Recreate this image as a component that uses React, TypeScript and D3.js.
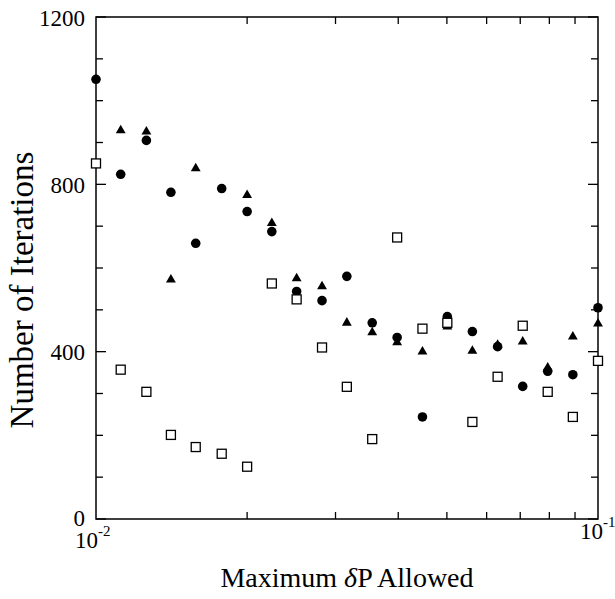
import React from "react";
import * as d3 from "d3";

// x values (Maximum δP allowed), logarithmically spaced
const xValues = [
  0.01, 0.0112, 0.0126, 0.0141, 0.0158, 0.0178, 0.02, 0.0224, 0.0251, 0.0282,
  0.0316, 0.0355, 0.0398, 0.0447, 0.0501, 0.0562, 0.0631, 0.0708, 0.0794,
  0.0891, 0.1,
];

// Filled circles
const circleSeries = [
  1051, 824, 905, 781, 659, 790, 735, 687, 544, 522, 580, 469, 434, 244, 484,
  448, 412, 317, 353, 345, 505,
];

// Filled triangles (null = no point)
const triangleSeries: (number | null)[] = [
  null, 929, 926, 572, 838, null, 774, 707, 575, 556, 469, 446, 422, 400, 460,
  402, 416, 424, 362, 436, 467,
];

// Open squares
const squareSeries = [
  850, 357, 304, 201, 172, 156, 125, 563, 525, 410, 316, 191, 673, 455, 469,
  232, 340, 462, 304, 244, 378,
];

const yTickLabels = [0, 400, 800, 1200];
const yMinorTicks = [100, 200, 300, 500, 600, 700, 900, 1000, 1100];
const xMinorTicks = [0.02, 0.03, 0.04, 0.05, 0.06, 0.07, 0.08, 0.09];

const W = 615;
const H = 599;
const left = 96;
const right = 598;
const top = 17;
const bottom = 519;

export default function App() {
  const x = d3.scaleLog().domain([0.01, 0.1]).range([left, right]);
  const y = d3.scaleLinear().domain([0, 1200]).range([bottom, top]);

  const tri = d3.symbol().type(d3.symbolTriangle).size(42);
  const circ = d3.symbol().type(d3.symbolCircle).size(72);
  const font = "'Liberation Serif', 'Times New Roman', serif";
  const majorLen = 10;
  const minorLen = 7;

  return (
    <svg
      width={W}
      height={H}
      style={{ position: "absolute", left: 0, top: 0, background: "#fff" }}
      fontFamily={font}
    >
      <rect x={0} y={0} width={W} height={H} fill="#fff" />
      {/* frame */}
      <rect
        x={left}
        y={top}
        width={right - left}
        height={bottom - top}
        fill="none"
        stroke="#000"
        strokeWidth={1.5}
      />
      {/* y ticks */}
      {yTickLabels.map((v) => (
        <g key={"ym" + v}>
          <line x1={left} x2={left + majorLen} y1={y(v)} y2={y(v)} stroke="#000" strokeWidth={1.3} />
          <line x1={right} x2={right - majorLen} y1={y(v)} y2={y(v)} stroke="#000" strokeWidth={1.3} />
          <text
            x={85}
            y={v === 0 ? y(v) + 6.5 : y(v) + 8.5}
            textAnchor="end"
            fontSize={23}
            fill="#000"
          >
            {v}
          </text>
        </g>
      ))}
      {yMinorTicks.map((v) => (
        <g key={"yn" + v}>
          <line x1={left} x2={left + minorLen} y1={y(v)} y2={y(v)} stroke="#000" strokeWidth={1.3} />
          <line x1={right} x2={right - minorLen} y1={y(v)} y2={y(v)} stroke="#000" strokeWidth={1.3} />
        </g>
      ))}
      {/* x ticks */}
      {xMinorTicks.map((v) => (
        <g key={"x" + v}>
          <line x1={x(v)} x2={x(v)} y1={bottom} y2={bottom - minorLen} stroke="#000" strokeWidth={1.3} />
          <line x1={x(v)} x2={x(v)} y1={top} y2={top + minorLen} stroke="#000" strokeWidth={1.3} />
        </g>
      ))}
      {/* x tick labels */}
      <text x={x(0.01) - 21} y={548} fontSize={23} fill="#000">
        10
        <tspan fontSize={15} dy={-12}>-2</tspan>
      </text>
      <text x={x(0.1) - 18} y={539} fontSize={23} fill="#000">
        10
        <tspan fontSize={15} dy={-12}>-1</tspan>
      </text>

      {/* axis titles */}
      <text
        x={347}
        y={587}
        textAnchor="middle"
        fontSize={28}
        fill="#000"
      >
        Maximum <tspan fontStyle="italic">δ</tspan>P Allowed
      </text>
      <text
        transform={`translate(33,290) rotate(-90)`}
        textAnchor="middle"
        fontSize={33}
        fill="#000"
      >
        Number of Iterations
      </text>

      {/* data: triangles */}
      {triangleSeries.map((v, i) =>
        v == null ? null : (
          <path
            key={"t" + i}
            d={tri() as string}
            transform={`translate(${x(xValues[i])},${y(v)})`}
            fill="#000"
          />
        )
      )}
      {/* circles */}
      {circleSeries.map((v, i) => (
        <path
          key={"c" + i}
          d={circ() as string}
          transform={`translate(${x(xValues[i])},${y(v)})`}
          fill="#000"
        />
      ))}
      {/* squares */}
      {squareSeries.map((v, i) => (
        <rect
          key={"s" + i}
          x={x(xValues[i]) - 4.5}
          y={y(v) - 4.5}
          width={9}
          height={9}
          fill="#fff"
          stroke="#000"
          strokeWidth={1.3}
        />
      ))}
    </svg>
  );
}
